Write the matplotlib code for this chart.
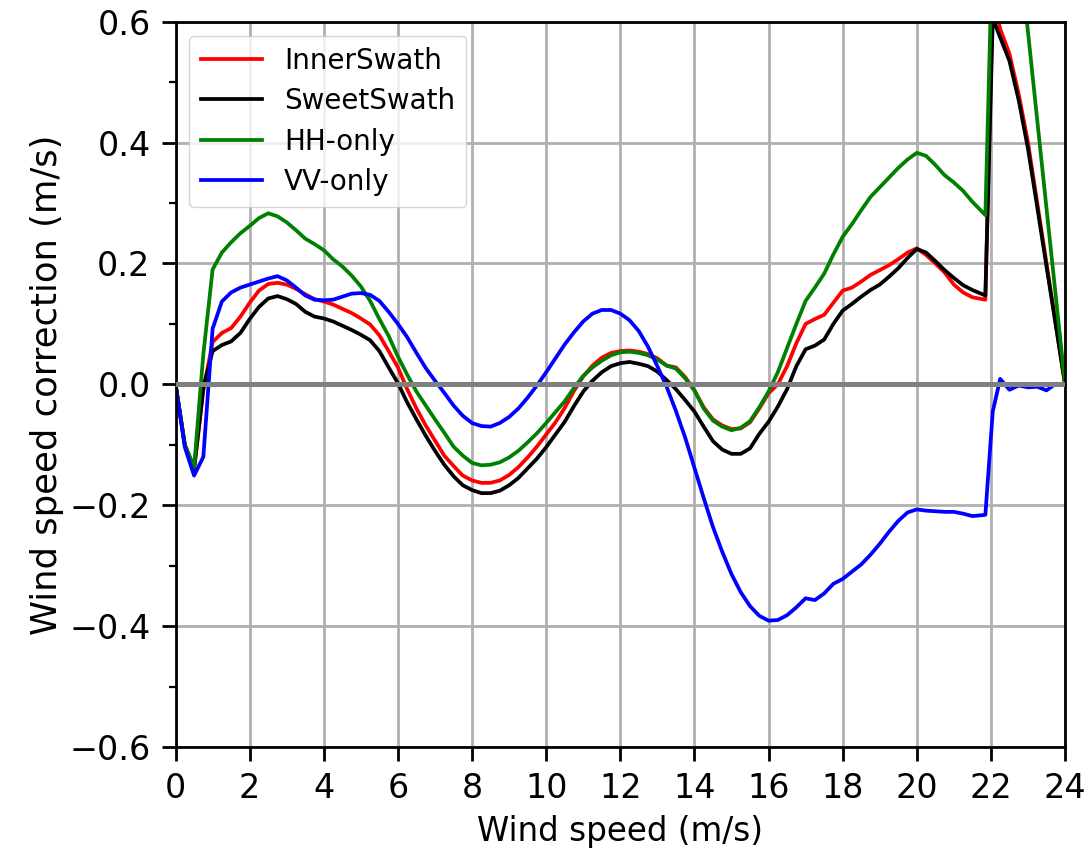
import numpy as np
import matplotlib
matplotlib.use("Agg")
import matplotlib.pyplot as plt
from matplotlib.ticker import MultipleLocator

# wind speed bins (m/s)
wind = list(np.arange(0, 21.75, 0.25)) + [21.85, 22.05, 22.25, 22.5, 22.75, 23.0, 23.25, 23.5, 23.75, 24.0]

inner_swath = [
    0.0, -0.10, -0.14, -0.01, 0.07, 0.085, 0.093, 0.112, 0.135, 0.155, 0.166, 0.168,
    0.165, 0.158, 0.149, 0.141, 0.137, 0.132, 0.125, 0.118, 0.109, 0.099, 0.081, 0.055,
    0.028, -0.008, -0.04, -0.068, -0.093, -0.118, -0.135, -0.151, -0.159, -0.163, -0.163, -0.159,
    -0.150, -0.137, -0.121, -0.103, -0.083, -0.063, -0.039, -0.011, 0.013, 0.031, 0.044, 0.052,
    0.055, 0.056, 0.054, 0.050, 0.043, 0.031, 0.028, 0.012, -0.010, -0.038, -0.058, -0.068,
    -0.074, -0.073, -0.063, -0.040, -0.015, 0.000, 0.030, 0.068, 0.100, 0.108, 0.115, 0.135,
    0.155, 0.160, 0.170, 0.181, 0.189, 0.197, 0.207, 0.218, 0.225, 0.214, 0.200, 0.185,
    0.165, 0.152, 0.144,
    0.140, 0.64, 0.588, 0.547, 0.48, 0.40, 0.30, 0.20, 0.10, 0.0,
]

sweet_swath = [
    0.0, -0.10, -0.14, -0.005, 0.055, 0.065, 0.071, 0.085, 0.108, 0.128, 0.142, 0.146,
    0.141, 0.133, 0.120, 0.112, 0.109, 0.104, 0.097, 0.090, 0.082, 0.073, 0.055, 0.028,
    0.002, -0.030, -0.058, -0.085, -0.110, -0.133, -0.152, -0.167, -0.175, -0.180, -0.180, -0.176,
    -0.167, -0.155, -0.139, -0.123, -0.104, -0.083, -0.062, -0.036, -0.012, 0.006, 0.020, 0.030,
    0.035, 0.037, 0.034, 0.030, 0.021, 0.007, -0.008, -0.026, -0.045, -0.070, -0.094, -0.108,
    -0.115, -0.115, -0.106, -0.082, -0.062, -0.037, -0.008, 0.030, 0.058, 0.064, 0.074, 0.100,
    0.122, 0.133, 0.145, 0.156, 0.165, 0.178, 0.192, 0.209, 0.224, 0.218, 0.204, 0.189,
    0.176, 0.164, 0.156,
    0.147, 0.605, 0.574, 0.535, 0.47, 0.39, 0.293, 0.195, 0.098, 0.0,
]

hh_only = [
    0.0, -0.10, -0.137, 0.05, 0.19, 0.218, 0.235, 0.250, 0.262, 0.275, 0.283, 0.278,
    0.268, 0.255, 0.241, 0.232, 0.222, 0.207, 0.195, 0.180, 0.162, 0.138, 0.108, 0.080,
    0.046, 0.016, -0.012, -0.035, -0.058, -0.080, -0.103, -0.118, -0.130, -0.134, -0.133, -0.129,
    -0.121, -0.110, -0.096, -0.081, -0.064, -0.046, -0.028, -0.006, 0.014, 0.028, 0.039, 0.048,
    0.053, 0.054, 0.052, 0.048, 0.041, 0.031, 0.026, 0.010, -0.010, -0.040, -0.060, -0.070,
    -0.076, -0.072, -0.061, -0.038, -0.012, 0.020, 0.060, 0.100, 0.138, 0.160, 0.183, 0.215,
    0.244, 0.265, 0.288, 0.310, 0.326, 0.342, 0.358, 0.372, 0.383, 0.378, 0.363, 0.346,
    0.334, 0.320, 0.302,
    0.280, 0.75, 0.80, 0.80, 0.73, 0.583, 0.437, 0.291, 0.146, 0.0,
]

vv_only = [
    0.0, -0.104, -0.151, -0.12, 0.092, 0.137, 0.152, 0.160, 0.165, 0.170, 0.175, 0.179,
    0.172, 0.160, 0.147, 0.140, 0.139, 0.140, 0.145, 0.150, 0.151, 0.148, 0.138, 0.120,
    0.100, 0.078, 0.052, 0.027, 0.006, -0.014, -0.035, -0.052, -0.064, -0.069, -0.070, -0.064,
    -0.054, -0.040, -0.022, -0.002, 0.020, 0.043, 0.066, 0.086, 0.104, 0.117, 0.123, 0.123,
    0.117, 0.106, 0.088, 0.062, 0.030, -0.004, -0.044, -0.088, -0.138, -0.188, -0.236, -0.277,
    -0.314, -0.344, -0.367, -0.383, -0.391, -0.390, -0.382, -0.369, -0.354, -0.357, -0.346, -0.330,
    -0.322, -0.310, -0.298, -0.282, -0.264, -0.244, -0.226, -0.212, -0.207, -0.209, -0.210, -0.211,
    -0.211, -0.214, -0.218,
    -0.216, -0.045, 0.009, -0.009, -0.002, -0.005, -0.004, -0.010, 0.001, 0.0,
]

series = [
    ("InnerSwath", inner_swath, "red"),
    ("SweetSwath", sweet_swath, "black"),
    ("HH-only", hh_only, "green"),
    ("VV-only", vv_only, "blue"),
]

fig = plt.figure(figsize=(10.89, 8.57), dpi=100)
ax = fig.add_axes([0.1612, 0.1284, 0.8168, 0.8463])

for name, vals, col in series:
    ax.plot(wind, vals, color=col, lw=2.7, label=name)

ax.axhline(0, color="gray", lw=3.6, zorder=3)

ax.set_xlim(0, 24)
ax.set_ylim(-0.6, 0.6)
ax.xaxis.set_major_locator(MultipleLocator(2))
ax.yaxis.set_major_locator(MultipleLocator(0.2))
ax.yaxis.set_minor_locator(MultipleLocator(0.1))
ax.grid(True, color="#b0b0b0", lw=2.0)

for s in ax.spines.values():
    s.set_linewidth(2.0)
ax.tick_params(which="major", length=10, width=2.0, labelsize=24, pad=8)
ax.tick_params(which="minor", length=5, width=1.6)

ax.set_xlabel("Wind speed (m/s)", fontsize=23.5, labelpad=7)
ax.set_ylabel("Wind speed correction (m/s)", fontsize=25.5)

ax.legend(loc="upper left", fontsize=20, handlelength=2.2, labelspacing=0.45,
          borderaxespad=0.5, framealpha=0.8)

fig.savefig("out.png", dpi=100)
